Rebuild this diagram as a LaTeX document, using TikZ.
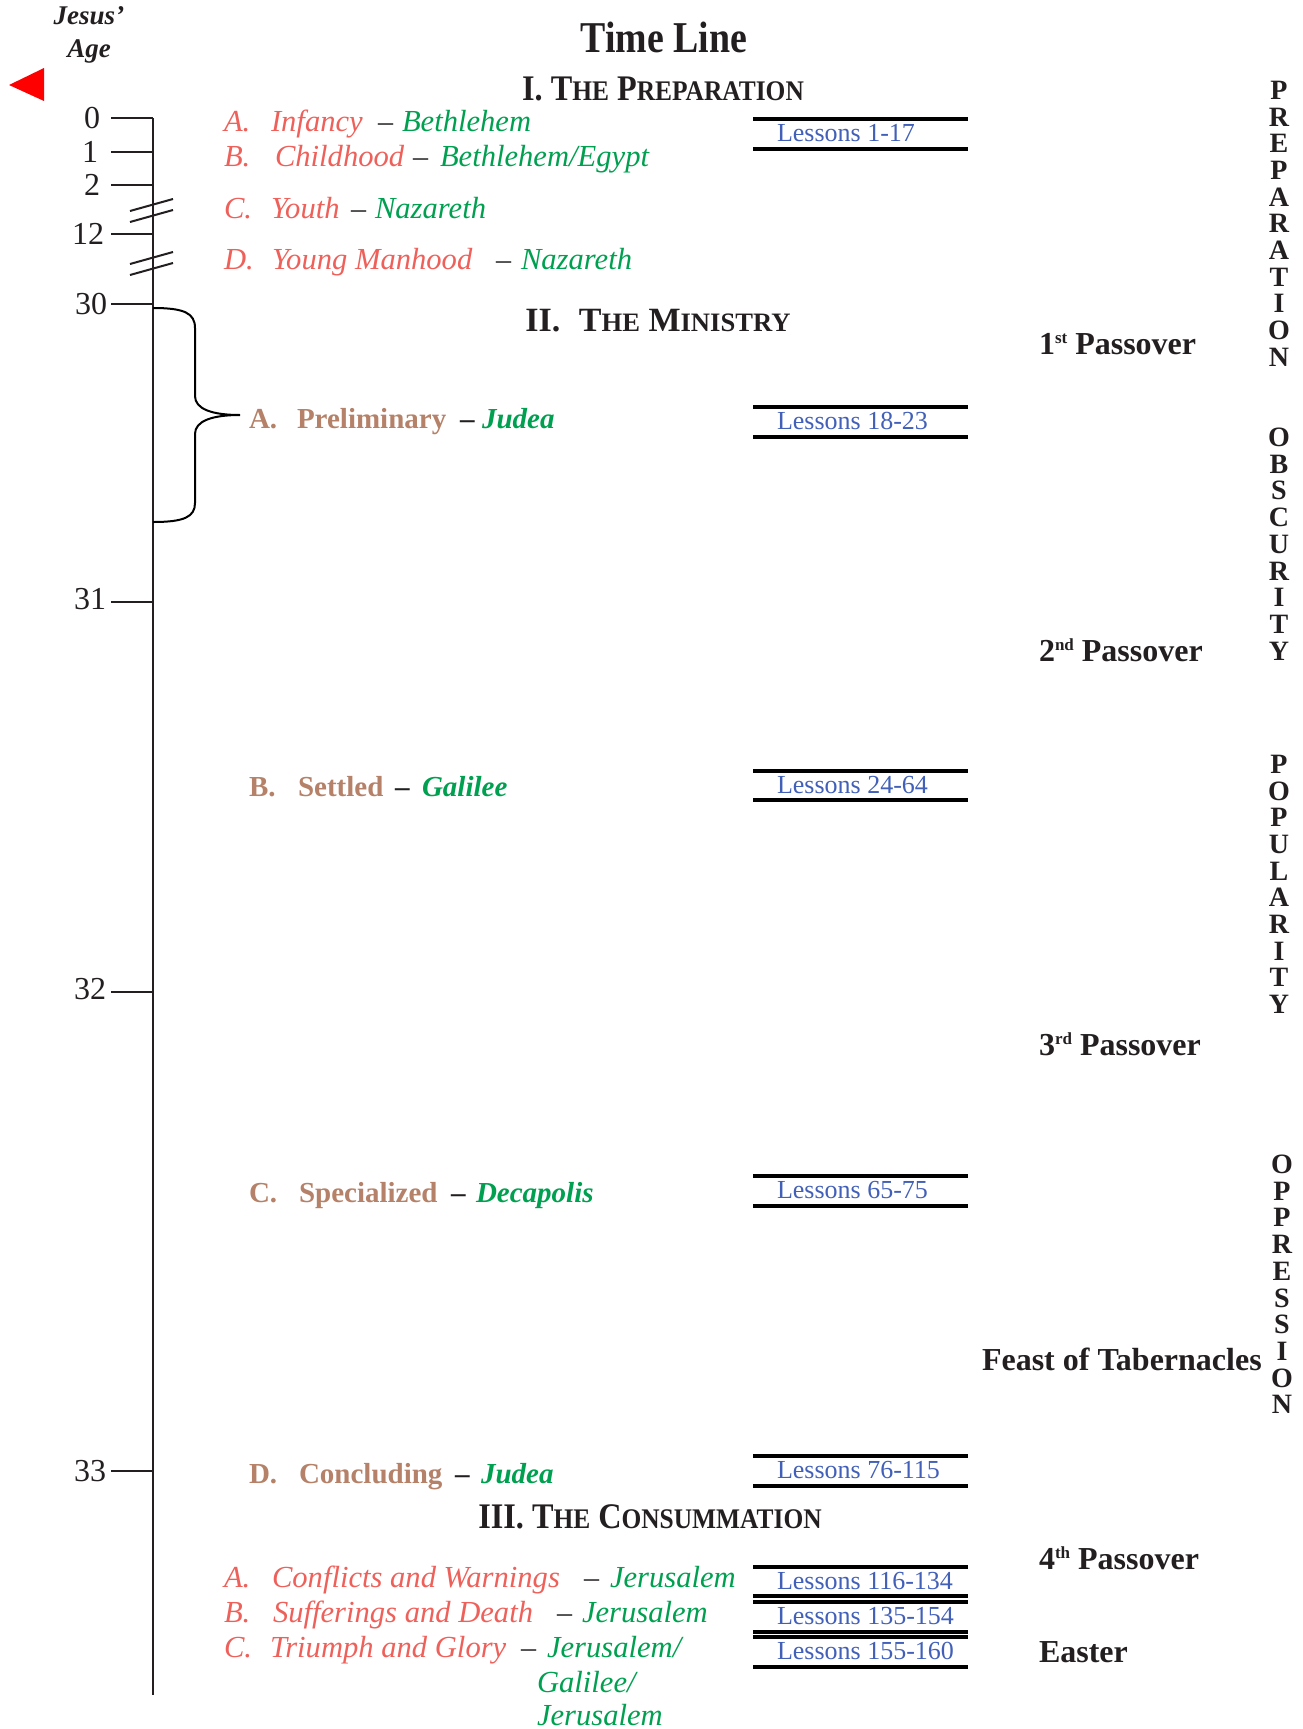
\documentclass[tikz,border=0pt]{standalone}
\usepackage{fontspec}
\setmainfont{Liberation Serif}
\newfontfamily\condfont[FakeStretch=0.86]{Liberation Serif}
\newfontfamily\condsec[FakeStretch=0.895]{Liberation Serif}
\definecolor{prepred}{RGB}{238,96,90}
\definecolor{placegreen}{RGB}{0,160,80}
\definecolor{minbrown}{RGB}{181,129,104}
\definecolor{lessblue}{RGB}{66,96,184}
\definecolor{ink}{RGB}{35,31,32}
\newcommand\smcp[1]{{\fontsize{14.2}{14.2}\selectfont #1}}
\newcommand\smcpb[1]{{\fontsize{13.3}{13.3}\selectfont #1}}
\newcommand\ordsup[1]{\raisebox{5.5pt}{\fontsize{8.5}{8.5}\selectfont #1}}
\begin{document}
\begin{tikzpicture}[x=0.5pt,y=-0.5pt,
  every node/.style={inner sep=0pt,outer sep=0pt},
  axisline/.style={line width=1.25pt,draw=ink},
  tickline/.style={line width=1.1pt,draw=ink},
  breakline/.style={line width=1pt,draw=ink},
  bracepath/.style={line width=1pt,draw=black},
  ticklabel/.style={anchor=east,font=\fontsize{16}{16}\selectfont,text=ink},
  agelabel/.style={anchor=base,font=\bfseries\itshape\fontsize{13.5}{13.5}\selectfont,text=ink},
  prepitem/.style={anchor=base west,font=\itshape\fontsize{15.3}{15.3}\selectfont,text=prepred},
  prepplace/.style={anchor=base west,font=\itshape\fontsize{15.3}{15.3}\selectfont,text=placegreen},
  dashsep/.style={anchor=base west,font=\fontsize{15}{15}\selectfont,text=ink},
  minitem/.style={anchor=base west,font=\bfseries\fontsize{14.5}{14.5}\selectfont,text=minbrown},
  minplace/.style={anchor=base west,font=\bfseries\itshape\fontsize{14.5}{14.5}\selectfont,text=placegreen},
  mindash/.style={anchor=base west,font=\bfseries\fontsize{14.5}{14.5}\selectfont,text=ink},
  lessontext/.style={anchor=base west,font=\fontsize{13}{13}\selectfont,text=lessblue},
  lessonrule/.style={line width=1.7pt,draw=black},
  titletext/.style={anchor=base,font=\condfont\bfseries\fontsize{22}{22}\selectfont,text=ink},
  section/.style={anchor=base,font=\condsec\bfseries\fontsize{18}{18}\selectfont,text=ink},
  sectionwide/.style={anchor=base,font=\bfseries\fontsize{17}{17}\selectfont,text=ink},
  event/.style={anchor=base west,font=\bfseries\fontsize{16}{16}\selectfont,text=ink},
  vertword/.style={anchor=north,align=center,font=\bfseries\fontsize{14}{13.35}\selectfont,text=ink}
]
\useasboundingbox (0,0) rectangle (1302,1729);

% header
\node[agelabel] (jesus) at (89,25) {Jesus’};
\node[agelabel] (age) at (89,57) {Age};
\fill[red] (9,85) -- (44,68) -- (44,101) -- cycle;
\node[titletext] (title) at (664,52) {Time Line};

% axis
\draw[axisline] (153,118) -- (153,1695);
\foreach \yy/\lab/\nm/\xx/\dy in {118/0/t0/100/0,152/1/t1/98/0,185/2/t2/100/0,234/12/t12/104/0,304/30/t30/107/0,602/31/t31/106/-3,992/32/t32/106/-3,1471/33/t33/106/0}{
  \draw[tickline] (111,\yy) -- (153,\yy);
  \node[ticklabel] (\nm) at (\xx,\yy+\dy) {\lab};
}
\draw[breakline] (130,211) -- (173,199);
\draw[breakline] (130,222) -- (173,210);
\draw[breakline] (130,264) -- (173,252);
\draw[breakline] (130,275) -- (173,263);

% brace
\draw[bracepath] (153,308) .. controls (184,308) and (195,313) .. (195,328) -- (195,396)
  .. controls (195,409) and (212,415) .. (240,415)
  .. controls (212,415) and (195,421) .. (195,434) -- (195,503)
  .. controls (195,517) and (184,522) .. (153,522);

% sections
\node[section] (sec1) at (663,100) {I. T\smcp{HE} P\smcp{REPARATION}};
\node[sectionwide] (sec2) at (658,331) {II.\hspace{5pt} T\smcpb{HE} M\smcpb{INISTRY}};
\node[section] (sec3) at (650,1528) {III. T\smcp{HE} C\smcp{ONSUMMATION}};

% preparation items
\node[prepitem] (pa) at (224,131) {A.};
\node[prepitem] (pan) at (271,131) {Infancy};
\node[dashsep] (pad) at (378,131) {–};
\node[prepplace] (pap) at (402,131) {Bethlehem};
\node[prepitem] (pb) at (224,166) {B.};
\node[prepitem] (pbn) at (275,166) {Childhood};
\node[dashsep] (pbd) at (413,166) {–};
\node[prepplace] (pbp) at (440,166) {Bethlehem/Egypt};
\node[prepitem] (pc) at (224,218) {C.};
\node[prepitem] (pcn) at (271,218) {Youth};
\node[dashsep] (pcd) at (351,218) {–};
\node[prepplace] (pcp) at (375,218) {Nazareth};
\node[prepitem] (pd) at (224,269) {D.};
\node[prepitem] (pdn) at (272,269) {Young Manhood};
\node[dashsep] (pdd) at (496,269) {–};
\node[prepplace] (pdp) at (521,269) {Nazareth};

% ministry items
\node[minitem] (ma) at (249,428) {A.};
\node[minitem] (man) at (297,428) {Preliminary};
\node[mindash] (mad) at (460,428) {–};
\node[minplace] (map) at (482,428) {Judea};
\node[minitem] (mb) at (249,796) {B.};
\node[minitem] (mbn) at (298,796) {Settled};
\node[mindash] (mbd) at (395,796) {–};
\node[minplace] (mbp) at (422,796) {Galilee};
\node[minitem] (mc) at (249,1202) {C.};
\node[minitem] (mcn) at (299,1202) {Specialized};
\node[mindash] (mcd) at (451,1202) {–};
\node[minplace] (mcp) at (476,1202) {Decapolis};
\node[minitem] (md) at (249,1483) {D.};
\node[minitem] (mdn) at (299,1483) {Concluding};
\node[mindash] (mdd) at (455,1483) {–};
\node[minplace] (mdp) at (481,1483) {Judea};

% consummation items
\node[prepitem] (ca) at (224,1587) {A.};
\node[prepitem] (can) at (272,1587) {Conflicts and Warnings};
\node[dashsep] (cad) at (584,1587) {–};
\node[prepplace] (cap) at (610,1587) {Jerusalem};
\node[prepitem] (cb) at (224,1622) {B.};
\node[prepitem] (cbn) at (273,1622) {Sufferings and Death};
\node[dashsep] (cbd) at (557,1622) {–};
\node[prepplace] (cbp) at (582,1622) {Jerusalem};
\node[prepitem] (cc) at (224,1657) {C.};
\node[prepitem] (ccn) at (270,1657) {Triumph and Glory};
\node[dashsep] (ccd) at (521,1657) {–};
\node[prepplace] (ccp) at (547,1657) {Jerusalem/};
\node[prepplace] (ccp2) at (537,1692) {Galilee/};
\node[prepplace] (ccp3) at (537,1725) {Jerusalem};

% lessons
\foreach \top/\bot/\txt/\nm in {119/149/1-17/l1,407/437/18-23/l2,771/800/24-64/l3,1176/1206/65-75/l4,1456/1486/76-115/l5,1567/1596/116-134/l6,1602/1632/135-154/l7,1637/1667/155-160/l8}{
  \draw[lessonrule] (753,\top) -- (968,\top);
  \draw[lessonrule] (753,\bot) -- (968,\bot);
  \node[lessontext] (\nm) at (777,\top+22) {Lessons \txt};
}

% events
\node[event] (pass1) at (1039,354) {1\ordsup{st} Passover};
\node[event] (pass2) at (1039,661) {2\ordsup{nd} Passover};
\node[event] (pass3) at (1039,1055) {3\ordsup{rd} Passover};
\node[event] (feast) at (982,1370) {Feast of Tabernacles};
\node[event] (pass4) at (1039,1569) {4\ordsup{th} Passover};
\node[event] (easter) at (1039,1662) {Easter};

% vertical words
\node[vertword] (vprep) at (1279,81) {P\\R\\E\\P\\A\\R\\A\\T\\I\\O\\N};
\node[vertword] (vobsc) at (1279,428) {O\\B\\S\\C\\U\\R\\I\\T\\Y};
\node[vertword] (vpop) at (1279,755) {P\\O\\P\\U\\L\\A\\R\\I\\T\\Y};
\node[vertword] (voppr) at (1282,1155) {O\\P\\P\\R\\E\\S\\S\\I\\O\\N};
\end{tikzpicture}
\end{document}
